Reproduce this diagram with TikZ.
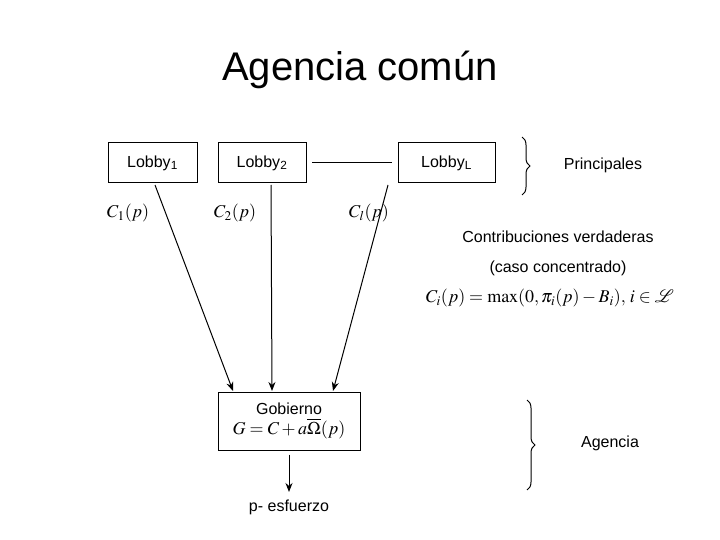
\documentclass[tikz,border=0pt]{standalone}
\usepackage{amsmath}
\usepackage{amssymb}
\usepackage{mathptmx}
\usepackage{fontspec}
\setmainfont{Liberation Sans}
\usetikzlibrary{decorations.pathreplacing,arrows.meta}
\begin{document}
\begin{tikzpicture}[x=1pt,y=-1pt,line width=1pt]
\tikzstyle{every node}+=[font=\fontsize{16}{19}\selectfont]
\tikzstyle{box}=[draw,black,minimum height=40pt,inner sep=2pt]
\tikzstyle{arr}=[black,-{Stealth[length=9pt,width=7pt]},line width=1pt]
\useasboundingbox (0,0) rectangle (720,540);
\draw (360,70) node[font=\fontsize{40}{44}\selectfont] (title) {Agencia común};
\node[box,minimum width=89pt] (l1) at (152.5,163) {Lobby\textsubscript{1}};
\node[box,minimum width=88pt] (l2) at (262,163) {Lobby\textsubscript{2}};
\node[box,minimum width=97pt] (lL) at (446.5,163) {Lobby\textsubscript{L}};
\draw [black] (312,163) -- (392,163);
\draw [decorate,decoration={brace,amplitude=8pt}] (522,137) -- (522,195);
\draw (603,165) node (prin) {Principales};
\draw (128,213) node[font=\fontsize{18}{20}\selectfont] (c1) {$C_1(p)$};
\draw (235,213) node[font=\fontsize{18}{20}\selectfont] (c2) {$C_2(p)$};
\draw (369,213) node[font=\fontsize{18}{20}\selectfont] (cl) {$C_l(p)$};
\draw (558,237) node (contr) {Contribuciones verdaderas};
\draw (558,268) node (caso) {(caso concentrado)};
\draw (550,298) node[font=\fontsize{18}{20}\selectfont] (form) {$C_i(p)=\max(0,\pi_i(p)-B_i),\, i\in\mathcal{L}$};
\node[box,minimum width=142pt,minimum height=58pt,align=center] (gob) at (289,421)
  {Gobierno\\[1pt] {\fontsize{18}{20}\selectfont$G=C+a\overline{\Omega}(p)$}};
\draw [arr] (155,185) -- (233,391);
\draw [arr] (271,185) -- (272,391);
\draw [arr] (388,185) -- (333,391);
\draw [arr] (gob.south) ++(0,4) -- (289,492);
\draw (289,507) node (esf) {p- esfuerzo};
\draw [decorate,decoration={brace,amplitude=8pt}] (527,400) -- (527,490);
\draw (610,443) node (ag) {Agencia};
\end{tikzpicture}
\end{document}
